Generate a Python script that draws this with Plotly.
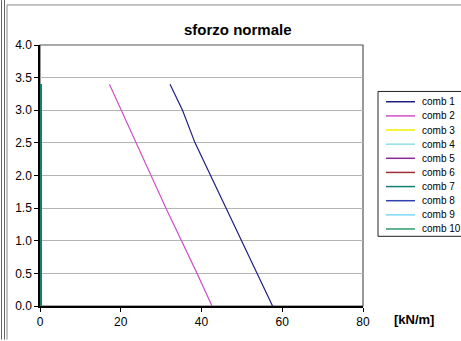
import plotly.graph_objects as go

# ---- data ----
series_names = ["comb 1", "comb 2", "comb 3", "comb 4", "comb 5",
                "comb 6", "comb 7", "comb 8", "comb 9", "comb 10"]
series_colors = ["#202080", "#d050c8", "#f2f000", "#8fdfe8", "#882a98",
                 "#a02c38", "#12806e", "#3040b0", "#7fd6f6", "#2f9a6c"]

heights = [3.4, 3.0, 2.5, 2.0, 1.5, 1.0, 0.5, 0.0]
comb1_x = [32.2, 35.3, 38.4, 42.2, 46.1, 49.9, 53.8, 57.6]
comb2_x = [17.2, 20.1, 23.8, 27.5, 31.2, 35.1, 38.9, 42.6]
zero_x = [0, 0, 0, 0, 0, 0, 0, 0]

series_x = [comb1_x, comb2_x] + [zero_x] * 8

x_ticks = [0, 20, 40, 60, 80]
y_ticks = [0.0, 0.5, 1.0, 1.5, 2.0, 2.5, 3.0, 3.5, 4.0]

# ---- layout geometry (pixels) ----
W, H = 461, 341
ML, MR, MT, MB = 40, 98, 45, 32
PW, PH = W - ML - MR, H - MT - MB


def px(xp):
    return (xp - ML) / PW


def py(yp):
    return (H - MB - yp) / PH


fig = go.Figure()

# draw order: combs 3..10 (zero lines) with comb 7 on top, then comb 2, comb 1
order = [2, 3, 4, 5, 7, 8, 9, 6, 1, 0]
for i in order:
    w = 1.2 if i < 2 else 4
    fig.add_trace(go.Scatter(
        x=series_x[i], y=heights, mode="lines", name=series_names[i],
        line=dict(color=series_colors[i], width=w), showlegend=False,
        hoverinfo="skip"))

shapes = []
annotations = []

# plot area border
shapes.append(dict(type="rect", xref="paper", yref="paper", x0=0, x1=1, y0=0, y1=1,
                   line=dict(color="#555555", width=1.2), layer="below"))

# outer frames
for xx, col in [(1.5, "#666666"), (4.5, "#666666"), (7, "#888888")]:
    shapes.append(dict(type="line", xref="paper", yref="paper",
                       x0=px(xx), x1=px(xx), y0=py(H + 2), y1=py(4.5 if xx == 7 else -2),
                       line=dict(color=col, width=1)))
shapes.append(dict(type="line", xref="paper", yref="paper",
                   x0=px(7), x1=px(W + 2), y0=py(4.5), y1=py(4.5),
                   line=dict(color="#888888", width=1)))

# manual legend
leg_left, leg_top, leg_bottom, leg_right = 378, 92, 238.5, 463
shapes.append(dict(type="rect", xref="paper", yref="paper",
                   x0=px(leg_left), x1=px(leg_right), y0=py(leg_bottom), y1=py(leg_top),
                   line=dict(color="#222222", width=1), fillcolor="white"))
first_y, step = 102.4, 14.3
for k, (nm, col) in enumerate(zip(series_names, series_colors)):
    yy = first_y + k * step
    shapes.append(dict(type="line", xref="paper", yref="paper",
                       x0=px(386), x1=px(415), y0=py(yy), y1=py(yy),
                       line=dict(color=col, width=1.5)))
    annotations.append(dict(text=nm, xref="paper", yref="paper", x=px(420), y=py(yy),
                            xanchor="left", yanchor="middle", showarrow=False,
                            font=dict(family="Liberation Sans, Arial", size=10, color="black")))

# title
annotations.append(dict(text="<b>sforzo normale</b>", xref="paper", yref="paper",
                        x=px(238), y=py(29), xanchor="center", yanchor="middle",
                        showarrow=False,
                        font=dict(family="Liberation Sans, Arial", size=15, color="black")))
# unit label
annotations.append(dict(text="<b>[kN/m]</b>", xref="paper", yref="paper",
                        x=px(414), y=py(323), xanchor="center", yanchor="middle",
                        showarrow=False,
                        font=dict(family="Liberation Sans, Arial", size=13, color="black")))

fig.update_layout(
    width=W, height=H,
    margin=dict(l=ML, r=MR, t=MT, b=MB, pad=0),
    paper_bgcolor="white", plot_bgcolor="white",
    showlegend=False,
    font=dict(family="Liberation Sans, Arial", size=12, color="black"),
    shapes=shapes, annotations=annotations,
    xaxis=dict(range=[0, 80], tickvals=x_ticks, ticktext=[str(v) for v in x_ticks],
               showgrid=False, zeroline=False, showline=True, linecolor="black",
               linewidth=2, ticks="outside", ticklen=4, tickcolor="black",
               tickfont=dict(size=12), fixedrange=True),
    yaxis=dict(range=[0, 4], tickvals=y_ticks, ticktext=[f"{v:.1f}" for v in y_ticks],
               showgrid=True, gridcolor="#b4b4b4", gridwidth=1, zeroline=False,
               showline=True, linecolor="black", linewidth=1.5, ticks="outside",
               ticklen=4, tickcolor="black", tickfont=dict(size=12),
               layer="below traces", fixedrange=True),
)

fig.write_html("out.html")
